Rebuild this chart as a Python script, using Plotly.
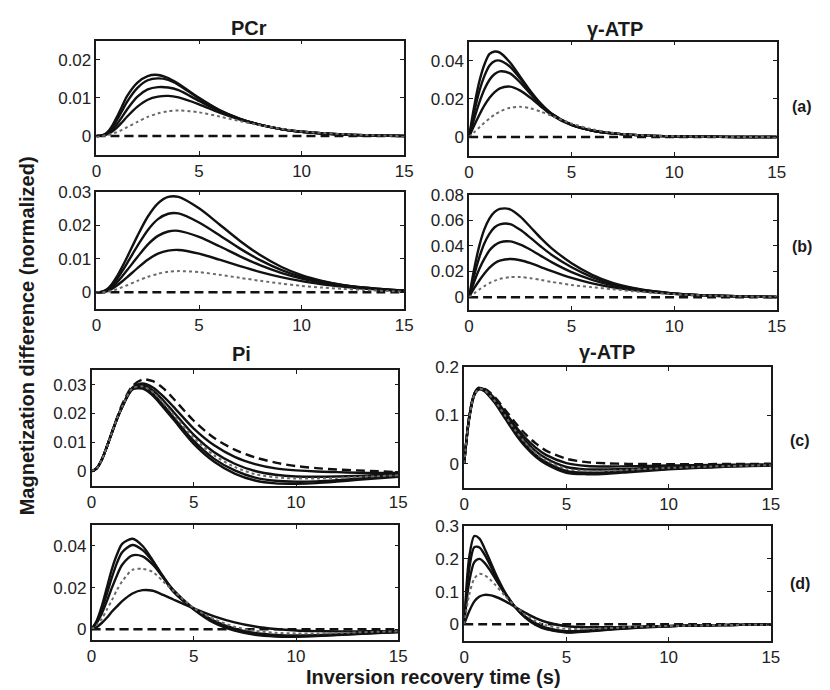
import plotly.graph_objects as go

W, H = 830, 690

# sample times (s)
T = [0, 0.25, 0.5, 0.75, 1, 1.25, 1.5, 2, 2.5, 3, 3.5, 4, 5, 6, 7, 8, 9, 10, 11, 12, 13, 14, 15]

# ---------- (a) PCr ----------
A_PCR_SOLID = [
    [0, 0.0001, 0.0008, 0.0025, 0.0050, 0.0078, 0.0105, 0.0140, 0.0157, 0.0160, 0.0152, 0.0137, 0.0100, 0.0068, 0.0045, 0.0029, 0.0018, 0.0011, 0.0007, 0.0004, 0.0002, 0.0001, 0.0],
    [0, 0.0001, 0.0007, 0.0021, 0.0042, 0.0066, 0.0090, 0.0126, 0.0146, 0.0151, 0.0147, 0.0134, 0.0098, 0.0067, 0.0045, 0.0029, 0.0018, 0.0011, 0.0007, 0.0004, 0.0002, 0.0001, 0.0],
    [0, 0.0001, 0.0005, 0.0015, 0.0031, 0.0050, 0.0070, 0.0103, 0.0122, 0.0128, 0.0127, 0.0120, 0.0092, 0.0065, 0.0044, 0.0029, 0.0018, 0.0011, 0.0007, 0.0004, 0.0002, 0.0001, 0.0],
    [0, 0.0001, 0.0004, 0.0011, 0.0022, 0.0036, 0.0051, 0.0077, 0.0095, 0.0103, 0.0105, 0.0101, 0.0083, 0.0061, 0.0043, 0.0029, 0.0018, 0.0011, 0.0007, 0.0004, 0.0002, 0.0001, 0.0],
]
A_PCR_DOT = [0, 0.0, 0.0002, 0.0005, 0.0010, 0.0016, 0.0023, 0.0037, 0.0050, 0.0059, 0.0065, 0.0067, 0.0062, 0.0051, 0.0039, 0.0028, 0.0019, 0.0012, 0.0008, 0.0005, 0.0003, 0.0001, 0.0]
A_PCR_DASH = [0] * 23

# ---------- (a) gamma-ATP ----------
A_ATP_SOLID = [
    [0, 0.016, 0.029, 0.038, 0.0435, 0.0448, 0.0442, 0.0390, 0.0315, 0.0240, 0.0175, 0.0125, 0.0065, 0.0034, 0.0019, 0.0011, 0.0006, 0.0003, 0.0002, 0.0001, 0, 0, 0],
    [0, 0.013, 0.024, 0.032, 0.0375, 0.0398, 0.0400, 0.0368, 0.0305, 0.0235, 0.0172, 0.0123, 0.0064, 0.0034, 0.0019, 0.0011, 0.0006, 0.0003, 0.0002, 0.0001, 0, 0, 0],
    [0, 0.0095, 0.018, 0.025, 0.0300, 0.0330, 0.0344, 0.0333, 0.0285, 0.0225, 0.0167, 0.0120, 0.0063, 0.0034, 0.0019, 0.0011, 0.0006, 0.0003, 0.0002, 0.0001, 0, 0, 0],
    [0, 0.006, 0.0115, 0.0165, 0.0205, 0.0235, 0.0255, 0.0264, 0.0243, 0.0205, 0.0160, 0.0117, 0.0062, 0.0034, 0.0019, 0.0011, 0.0006, 0.0003, 0.0002, 0.0001, 0, 0, 0],
]
A_ATP_DOT = [0, 0.0025, 0.005, 0.0075, 0.0097, 0.0117, 0.0133, 0.0153, 0.0158, 0.0150, 0.0133, 0.0112, 0.0070, 0.0040, 0.0022, 0.0012, 0.0007, 0.0004, 0.0002, 0.0001, 0, 0, 0]
A_ATP_DASH = [0] * 23

# ---------- (b) PCr ----------
B_PCR_SOLID = [
    [0, 0.0001, 0.0008, 0.0024, 0.0047, 0.0075, 0.0105, 0.0168, 0.0225, 0.0265, 0.0284, 0.0284, 0.0250, 0.0202, 0.0153, 0.0110, 0.0076, 0.0051, 0.0034, 0.0022, 0.0014, 0.0009, 0.0005],
    [0, 0.0001, 0.0007, 0.0020, 0.0039, 0.0062, 0.0087, 0.0138, 0.0185, 0.0218, 0.0234, 0.0235, 0.0208, 0.0170, 0.0130, 0.0095, 0.0067, 0.0046, 0.0032, 0.0021, 0.0014, 0.0009, 0.0005],
    [0, 0.0001, 0.0005, 0.0015, 0.0029, 0.0047, 0.0066, 0.0105, 0.0142, 0.0168, 0.0181, 0.0183, 0.0165, 0.0137, 0.0107, 0.0080, 0.0058, 0.0041, 0.0029, 0.0020, 0.0013, 0.0008, 0.0005],
    [0, 0.0, 0.0003, 0.0010, 0.0020, 0.0032, 0.0045, 0.0072, 0.0097, 0.0115, 0.0124, 0.0126, 0.0115, 0.0097, 0.0078, 0.0060, 0.0045, 0.0033, 0.0024, 0.0017, 0.0011, 0.0007, 0.0004],
]
B_PCR_DOT = [0, 0.0, 0.0001, 0.0004, 0.0009, 0.0015, 0.0021, 0.0034, 0.0046, 0.0055, 0.0061, 0.0063, 0.0060, 0.0052, 0.0043, 0.0034, 0.0026, 0.0019, 0.0014, 0.0010, 0.0007, 0.0004, 0.0002]
B_PCR_DASH = [0] * 23

# ---------- (b) gamma-ATP ----------
B_ATP_SOLID = [
    [0, 0.022, 0.040, 0.053, 0.0615, 0.0665, 0.0688, 0.0685, 0.0628, 0.0545, 0.0460, 0.0385, 0.0265, 0.0175, 0.0112, 0.0072, 0.0046, 0.0029, 0.0018, 0.0011, 0.0007, 0.0004, 0.0002],
    [0, 0.017, 0.031, 0.042, 0.0495, 0.0545, 0.0568, 0.0570, 0.0525, 0.0462, 0.0395, 0.0333, 0.0233, 0.0157, 0.0103, 0.0068, 0.0044, 0.0028, 0.0018, 0.0011, 0.0007, 0.0004, 0.0002],
    [0, 0.012, 0.022, 0.030, 0.0365, 0.0405, 0.0428, 0.0435, 0.0410, 0.0370, 0.0322, 0.0275, 0.0195, 0.0135, 0.0092, 0.0063, 0.0042, 0.0027, 0.0017, 0.0011, 0.0007, 0.0004, 0.0002],
    [0, 0.007, 0.013, 0.0185, 0.023, 0.0265, 0.0285, 0.0298, 0.0288, 0.0265, 0.0235, 0.0205, 0.0150, 0.0108, 0.0077, 0.0055, 0.0038, 0.0026, 0.0017, 0.0011, 0.0007, 0.0004, 0.0002],
]
B_ATP_DOT = [0, 0.003, 0.006, 0.0087, 0.011, 0.0128, 0.0142, 0.0156, 0.0157, 0.0148, 0.0134, 0.0120, 0.0095, 0.0078, 0.0062, 0.0047, 0.0034, 0.0024, 0.0016, 0.0011, 0.0007, 0.0004, 0.0002]
B_ATP_DASH = [0] * 23

# ---------- (c) Pi ----------
C_PI_SOLID = [
    [0, 0.0010, 0.0040, 0.0085, 0.0135, 0.0183, 0.0225, 0.0290, 0.0304, 0.0290, 0.0260, 0.0224, 0.0148, 0.0090, 0.0050, 0.0025, 0.0010, 0.0003, -0.0001, -0.0003, -0.0005, -0.0006, -0.0006],
    [0, 0.0010, 0.0040, 0.0085, 0.0135, 0.0183, 0.0224, 0.0288, 0.0298, 0.0280, 0.0246, 0.0206, 0.0126, 0.0066, 0.0026, 0.0001, -0.0012, -0.0018, -0.0019, -0.0018, -0.0016, -0.0013, -0.0010],
    [0, 0.0010, 0.0040, 0.0085, 0.0134, 0.0182, 0.0223, 0.0285, 0.0290, 0.0268, 0.0230, 0.0188, 0.0105, 0.0043, 0.0003, -0.0022, -0.0033, -0.0036, -0.0035, -0.0031, -0.0026, -0.0021, -0.0017],
    [0, 0.0010, 0.0040, 0.0085, 0.0134, 0.0182, 0.0222, 0.0283, 0.0286, 0.0262, 0.0222, 0.0180, 0.0095, 0.0033, -0.0008, -0.0032, -0.0042, -0.0043, -0.0041, -0.0036, -0.0030, -0.0024, -0.0019],
]
C_PI_DOT = [0, 0.0010, 0.0040, 0.0085, 0.0135, 0.0183, 0.0224, 0.0287, 0.0294, 0.0274, 0.0238, 0.0197, 0.0116, 0.0055, 0.0015, -0.0010, -0.0021, -0.0025, -0.0025, -0.0023, -0.0020, -0.0017, -0.0014]
C_PI_DASH = [0, 0.0010, 0.0040, 0.0085, 0.0136, 0.0186, 0.0232, 0.0295, 0.0318, 0.0312, 0.0288, 0.0252, 0.0175, 0.0115, 0.0075, 0.0048, 0.0030, 0.0018, 0.0011, 0.0006, 0.0003, 0.0000, -0.0003]

# ---------- (c) gamma-ATP ----------
C_ATP_SOLID = [
    [0, 0.097, 0.145, 0.157, 0.154, 0.146, 0.135, 0.107, 0.078, 0.053, 0.033, 0.018, 0.001, -0.005, -0.006, -0.0055, -0.005, -0.004, -0.0035, -0.003, -0.0025, -0.002, -0.0018],
    [0, 0.096, 0.144, 0.156, 0.153, 0.144, 0.132, 0.103, 0.073, 0.047, 0.026, 0.011, -0.007, -0.012, -0.012, -0.011, -0.009, -0.008, -0.0065, -0.0055, -0.0045, -0.0035, -0.003],
    [0, 0.095, 0.143, 0.155, 0.151, 0.141, 0.128, 0.097, 0.066, 0.039, 0.018, 0.003, -0.015, -0.019, -0.018, -0.016, -0.013, -0.011, -0.009, -0.007, -0.0055, -0.0045, -0.0035],
    [0, 0.094, 0.142, 0.154, 0.150, 0.139, 0.126, 0.094, 0.062, 0.035, 0.014, -0.001, -0.019, -0.022, -0.021, -0.018, -0.015, -0.012, -0.010, -0.008, -0.006, -0.005, -0.004],
]
C_ATP_DOT = [0, 0.095, 0.143, 0.155, 0.152, 0.142, 0.130, 0.100, 0.069, 0.043, 0.022, 0.007, -0.011, -0.015, -0.015, -0.013, -0.011, -0.009, -0.0075, -0.006, -0.005, -0.004, -0.0032]
C_ATP_DASH = [0, 0.098, 0.146, 0.158, 0.155, 0.148, 0.138, 0.112, 0.085, 0.061, 0.042, 0.027, 0.010, 0.003, 0.0005, -0.0005, -0.001, -0.001, -0.001, -0.001, -0.0008, -0.0006, -0.0004]

# ---------- (d) Pi ----------
D_PI_SOLID = [
    [0, 0.004, 0.011, 0.020, 0.029, 0.036, 0.041, 0.0435, 0.040, 0.033, 0.025, 0.018, 0.0095, 0.003, -0.0007, -0.0027, -0.0035, -0.0036, -0.0033, -0.0028, -0.0023, -0.0018, -0.0014],
    [0, 0.0035, 0.0095, 0.017, 0.025, 0.032, 0.037, 0.0405, 0.038, 0.0325, 0.0255, 0.0185, 0.0098, 0.0035, -0.0003, -0.0023, -0.0032, -0.0033, -0.0031, -0.0027, -0.0022, -0.0017, -0.0013],
    [0, 0.003, 0.0075, 0.0135, 0.020, 0.026, 0.031, 0.0355, 0.035, 0.031, 0.025, 0.019, 0.010, 0.004, 0.0003, -0.0018, -0.0027, -0.003, -0.0028, -0.0025, -0.002, -0.0016, -0.0012],
    [0, 0.001, 0.003, 0.0055, 0.0085, 0.011, 0.0135, 0.0172, 0.0188, 0.0185, 0.0165, 0.0143, 0.0100, 0.0062, 0.0033, 0.0013, 0.0001, -0.0006, -0.0009, -0.001, -0.001, -0.0009, -0.0008],
]
D_PI_DOT = [0, 0.002, 0.005, 0.0095, 0.014, 0.019, 0.023, 0.0285, 0.029, 0.0275, 0.023, 0.0185, 0.0102, 0.0048, 0.0012, -0.0008, -0.0017, -0.002, -0.002, -0.0018, -0.0015, -0.0012, -0.001]
D_PI_DASH = [0] * 23

# ---------- (d) gamma-ATP ----------
D_ATP_SOLID = [
    [0, 0.205, 0.270, 0.262, 0.232, 0.197, 0.160, 0.098, 0.052, 0.020, -0.002, -0.015, -0.025, -0.022, -0.017, -0.012, -0.009, -0.006, -0.004, -0.003, -0.002, -0.0015, -0.001],
    [0, 0.170, 0.236, 0.235, 0.213, 0.184, 0.152, 0.095, 0.052, 0.021, 0.000, -0.013, -0.024, -0.021, -0.016, -0.012, -0.008, -0.006, -0.004, -0.003, -0.002, -0.0015, -0.001],
    [0, 0.130, 0.190, 0.200, 0.188, 0.167, 0.142, 0.093, 0.053, 0.023, 0.003, -0.010, -0.021, -0.019, -0.015, -0.011, -0.008, -0.0055, -0.004, -0.003, -0.002, -0.0015, -0.001],
    [0, 0.040, 0.070, 0.085, 0.090, 0.089, 0.085, 0.071, 0.053, 0.035, 0.019, 0.007, -0.006, -0.009, -0.009, -0.008, -0.006, -0.005, -0.004, -0.003, -0.002, -0.0015, -0.001],
]
D_ATP_DOT = [0, 0.090, 0.140, 0.154, 0.150, 0.138, 0.122, 0.087, 0.055, 0.029, 0.010, -0.003, -0.014, -0.014, -0.012, -0.009, -0.007, -0.005, -0.004, -0.003, -0.002, -0.0015, -0.001]
D_ATP_DASH = [0] * 23

X_TICKS = [0, 5, 10, 15]
X_TICK_LABELS = ["0", "5", "10", "15"]

Y_TICKS = {
    "a_l": ([0, 0.01, 0.02], ["0", "0.01", "0.02"]),
    "a_r": ([0, 0.02, 0.04], ["0", "0.02", "0.04"]),
    "b_l": ([0, 0.01, 0.02, 0.03], ["0", "0.01", "0.02", "0.03"]),
    "b_r": ([0, 0.02, 0.04, 0.06, 0.08], ["0", "0.02", "0.04", "0.06", "0.08"]),
    "c_l": ([0, 0.01, 0.02, 0.03], ["0", "0.01", "0.02", "0.03"]),
    "c_r": ([0, 0.1, 0.2], ["0", "0.1", "0.2"]),
    "d_l": ([0, 0.02, 0.04], ["0", "0.02", "0.04"]),
    "d_r": ([0, 0.1, 0.2, 0.3], ["0", "0.1", "0.2", "0.3"]),
}

PANEL_TITLES = ["PCr", "γ-ATP", "Pi", "γ-ATP"]
ROW_LABELS = ["(a)", "(b)", "(c)", "(d)"]
X_TITLE = "Inversion recovery time (s)"
Y_TITLE = "Magnetization difference (normalized)"

# panel layout: key, solid, dot, dash, y-range, pixel box (x0, x1, y0, y1)
panels = [
    ("a_l", A_PCR_SOLID, A_PCR_DOT, A_PCR_DASH, [-0.005, 0.025], (93, 406, 32, 148)),
    ("a_r", A_ATP_SOLID, A_ATP_DOT, A_ATP_DASH, [-0.01, 0.05], (472, 785, 33, 149)),
    ("b_l", B_PCR_SOLID, B_PCR_DOT, B_PCR_DASH, [-0.005, 0.03], (93, 406, 185, 304)),
    ("b_r", B_ATP_SOLID, B_ATP_DOT, B_ATP_DASH, [-0.01, 0.08], (472, 785, 188, 305)),
    ("c_l", C_PI_SOLID, C_PI_DOT, C_PI_DASH, [-0.005, 0.035], (88, 400, 366, 483)),
    ("c_r", C_ATP_SOLID, C_ATP_DOT, C_ATP_DASH, [-0.05, 0.2], (467, 779, 363, 485)),
    ("d_l", D_PI_SOLID, D_PI_DOT, D_PI_DASH, [-0.005, 0.05], (88, 400, 523, 639)),
    ("d_r", D_ATP_SOLID, D_ATP_DOT, D_ATP_DASH, [-0.05, 0.3], (467, 779, 524, 640)),
]

FONT = "Liberation Sans, Arial, sans-serif"
INK = "#1a1a1a"

fig = go.Figure()
layout = dict(
    width=W, height=H,
    margin=dict(l=0, r=0, t=0, b=0),
    paper_bgcolor="white", plot_bgcolor="white",
    showlegend=False,
    font=dict(family=FONT, color=INK, size=17),
)

for i, (key, solid, dot, dash, yr, box) in enumerate(panels):
    n = "" if i == 0 else str(i + 1)
    xa, ya = "x" + n, "y" + n
    x0, x1, y0, y1 = box
    for s in solid:
        fig.add_trace(go.Scatter(x=T, y=s, xaxis=xa, yaxis=ya, mode="lines",
                                 line=dict(color="#111111", width=2.4, shape="spline", smoothing=0.8),
                                 hoverinfo="skip"))
    fig.add_trace(go.Scatter(x=T, y=dash, xaxis=xa, yaxis=ya, mode="lines",
                             line=dict(color="#111111", width=2.4, dash="9px,5px", shape="spline", smoothing=0.8),
                             hoverinfo="skip"))
    fig.add_trace(go.Scatter(x=T, y=dot, xaxis=xa, yaxis=ya, mode="lines",
                             line=dict(color="#6a6a6a", width=2, dash="dot", shape="spline", smoothing=0.8),
                             hoverinfo="skip"))
    tv, tt = Y_TICKS[key]
    common = dict(showline=True, linecolor=INK, linewidth=1.5, mirror="ticks",
                  ticks="inside", ticklen=4, tickcolor=INK, showgrid=False, zeroline=False,
                  tickfont=dict(family=FONT, size=17, color="#222222"))
    layout["xaxis" + n] = dict(domain=[x0 / W, x1 / W], anchor=ya, range=[0, 15],
                               tickvals=X_TICKS, ticktext=X_TICK_LABELS, **common)
    layout["yaxis" + n] = dict(domain=[1 - y1 / H, 1 - y0 / H], anchor=xa, range=yr,
                               tickvals=tv, ticktext=tt, **common)

annotations = []
title_pos = [(248, 19), (620, 20), (241, 350), (612, 348)]
for txt, (px, py) in zip(PANEL_TITLES, title_pos):
    annotations.append(dict(text="<b>%s</b>" % txt, x=px / W, y=1 - py / H, xref="paper", yref="paper",
                            showarrow=False, xanchor="center", yanchor="middle",
                            font=dict(family=FONT, size=20, color=INK)))
label_pos = [(811, 99), (811, 241), (809, 437), (809, 582)]
for txt, (px, py) in zip(ROW_LABELS, label_pos):
    annotations.append(dict(text="<b>%s</b>" % txt, x=px / W, y=1 - py / H, xref="paper", yref="paper",
                            showarrow=False, xanchor="center", yanchor="middle",
                            font=dict(family=FONT, size=16, color=INK)))
annotations.append(dict(text="<b>%s</b>" % X_TITLE, x=436 / W, y=1 - 677 / H, xref="paper", yref="paper",
                        showarrow=False, xanchor="center", yanchor="middle",
                        font=dict(family=FONT, size=20, color=INK)))
annotations.append(dict(text="<b>%s</b>" % Y_TITLE, x=22 / W, y=1 - 331 / H, xref="paper", yref="paper",
                        showarrow=False, xanchor="center", yanchor="middle", textangle=-90,
                        font=dict(family=FONT, size=20, color=INK)))
layout["annotations"] = annotations

fig.update_layout(**layout)
fig.write_html("out.html")
